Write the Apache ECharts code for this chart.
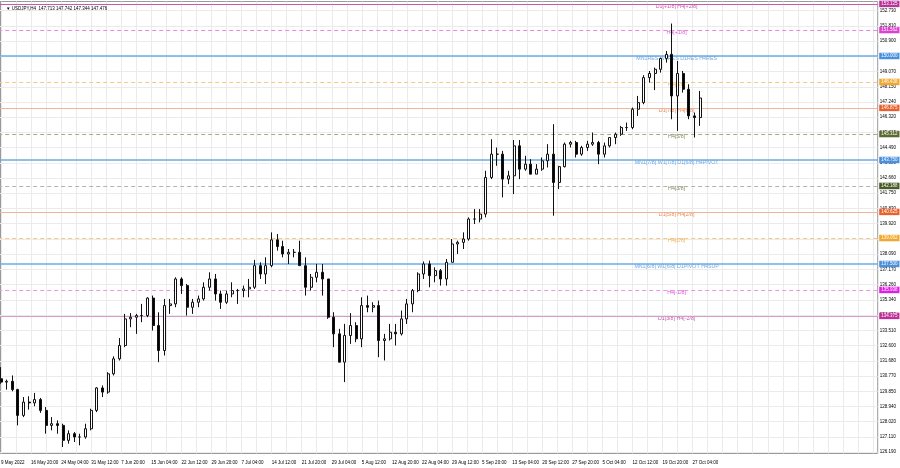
<!DOCTYPE html>
<html><head><meta charset="utf-8">
<script src="https://cdn.jsdelivr.net/npm/echarts@6/dist/echarts.min.js"></script>
<style>html,body{margin:0;padding:0;background:#fff}#c{width:900px;height:468px}</style>
</head><body><div id="c"></div>
<script>
// ---- data ----
const dates = [
 '05-09','05-10','05-11','05-12','05-13','05-16','05-17','05-18','05-19','05-20',
 '05-23','05-24','05-25','05-26','05-27','05-30','05-31','06-01','06-02','06-03',
 '06-06','06-07','06-08','06-09','06-10','06-13','06-14','06-15','06-16','06-17',
 '06-20','06-21','06-22','06-23','06-24','06-27','06-28','06-29','06-30','07-01',
 '07-04','07-05','07-06','07-07','07-08','07-11','07-12','07-13','07-14','07-15',
 '07-18','07-19','07-20','07-21','07-22','07-25','07-26','07-27','07-28','07-29',
 '08-01','08-02','08-03','08-04','08-05','08-08','08-09','08-10','08-11','08-12',
 '08-15','08-16','08-17','08-18','08-19','08-22','08-23','08-24','08-25','08-26',
 '08-29','08-30','08-31','09-01','09-02','09-05','09-06','09-07','09-08','09-09',
 '09-12','09-13','09-14','09-15','09-16','09-19','09-20','09-21','09-22','09-23',
 '09-26','09-27','09-28','09-29','09-30','10-03','10-04','10-05','10-06','10-07',
 '10-10','10-11','10-12','10-13','10-14','10-17','10-18','10-19','10-20','10-21',
 '10-24','10-25','10-26','10-27','10-28'];
const opens = [
 130.6,130.4,130.45,129.95,128.4, 129.2,129.15,129.35,128.7,127.8,
 127.9,127.8,126.9,127.3,127.1, 127.1,127.6,128.7,130.05,129.8,
 130.9,131.8,132.6,134.2,134.3, 134.4,134.4,135.45,133.8,132.3,
 135.0,135.1,136.6,136.2,134.9, 135.2,135.4,136.1,136.6,135.7,
 135.2,135.7,135.9,135.9,136.0, 136.1,137.4,136.9,137.4,138.95,
 138.55,138.1,138.2,138.2,137.4, 136.1,136.7,137.0,136.6,134.3,
 133.3,131.6,133.2,133.8,133.0, 135.0,134.9,135.0,132.9,133.0,
 133.4,133.3,134.2,135.1,135.9, 136.9,137.5,136.8,137.1,136.6,
 137.6,138.7,138.8,139.0,140.2, 140.2,140.5,142.7,144.1,144.1,
 142.6,142.8,144.6,143.2,143.5, 142.9,143.2,143.7,144.1,142.4,
 143.35,144.7,144.8,144.1,144.5, 144.7,144.8,144.1,144.6,145.1,
 145.3,145.7,145.7,146.8,147.2, 148.7,148.95,149.2,149.85,150.1,
 147.6,148.95,148.0,146.4,146.3];
const highs = [
 131.3,130.55,130.8,130.0,129.5, 129.55,129.75,129.45,128.9,128.3,
 128.1,127.9,127.5,127.4,127.3, 127.9,128.8,130.1,130.2,131.0,
 131.95,133.05,134.5,134.55,134.5, 135.1,135.5,135.6,134.6,135.4,
 135.4,136.7,136.7,136.3,135.4, 135.6,136.4,137.0,136.9,135.9,
 135.9,136.4,136.0,136.2,136.6, 137.75,137.6,137.9,139.4,139.3,
 138.9,138.4,138.4,138.9,137.9, 136.9,137.5,137.5,136.6,134.6,
 133.6,133.9,134.55,134.0,135.5, 135.6,135.2,135.3,133.3,133.9,
 133.9,134.7,135.4,136.0,137.0, 137.65,137.7,137.3,137.2,137.8,
 139.0,138.9,139.4,140.3,140.8, 140.8,143.1,145.0,144.5,144.3,
 143.1,144.95,144.95,144.0,143.8, 143.5,143.9,144.7,145.9,143.4,
 144.8,144.9,144.9,144.6,144.9, 145.4,144.9,144.8,145.1,145.4,
 145.8,146.0,146.9,147.6,148.85, 149.1,149.3,149.9,150.3,151.95,
 149.7,149.1,148.3,146.6,147.9];
const lows = [
 130.3,129.95,129.85,127.8,128.3, 128.75,128.95,128.55,127.3,127.5,
 127.3,126.5,126.7,126.8,126.6, 127.0,127.5,128.6,129.5,129.7,
 130.8,131.7,132.5,133.7,133.3, 134.0,134.3,133.5,131.6,132.0,
 134.5,134.9,135.7,134.4,134.5, 134.9,135.3,135.9,135.3,134.8,
 135.1,135.5,135.1,135.5,135.5, 136.0,136.6,136.3,137.3,138.3,
 137.9,137.5,137.9,137.4,135.6, 135.9,136.4,135.6,134.2,132.5,
 131.6,130.4,132.7,132.8,132.5, 134.6,134.6,131.9,131.7,132.9,
 132.6,133.2,133.9,134.6,135.8, 136.6,136.1,136.4,136.2,136.2,
 137.6,138.1,138.4,138.9,139.9, 140.0,140.3,142.6,143.4,141.5,
 142.3,141.7,142.6,143.1,142.9, 142.9,143.1,143.3,140.4,142.0,
 143.3,144.5,143.9,144.0,144.3, 144.6,143.5,143.9,144.5,144.7,
 145.2,145.5,145.6,146.4,147.1, 148.4,147.95,149.0,149.6,146.2,
 145.5,147.8,146.2,145.1,145.8];
const closes = [
 130.4,130.45,129.95,128.4,129.2, 129.15,129.35,128.7,127.8,127.9,
 127.8,126.9,127.3,127.1,127.1, 127.6,128.7,130.05,129.8,130.9,
 131.8,132.6,134.2,134.3,134.4, 134.4,135.45,133.8,132.3,135.0,
 135.1,136.6,136.2,134.9,135.2, 135.4,136.1,136.6,135.7,135.2,
 135.7,135.9,135.9,136.0,136.1, 137.4,136.9,137.4,138.95,138.55,
 138.1,138.2,138.2,137.4,136.1, 136.7,137.0,136.6,134.3,133.3,
 131.6,133.2,133.8,133.0,135.0, 134.9,135.0,132.9,133.0,133.4,
 133.3,134.2,135.1,135.9,136.9, 137.5,136.8,137.1,136.6,137.6,
 138.7,138.8,139.0,140.2,140.2, 140.5,142.7,144.1,144.1,142.6,
 142.8,144.6,143.2,143.5,142.9, 143.2,143.7,144.1,142.4,143.35,
 144.7,144.8,144.1,144.5,144.7, 144.8,144.1,144.6,145.1,145.3,
 145.7,145.7,146.8,147.2,148.7, 148.95,149.2,149.85,150.1,147.6,
 148.95,148.0,146.4,146.3,147.476];

const xTickLabels = ['9 May 2022','16 May 20:00','24 May 04:00','31 May 12:00','7 Jun 20:00',
 '15 Jun 04:00','22 Jun 12:00','29 Jun 20:00','7 Jul 04:00','14 Jul 12:00','21 Jul 20:00',
 '29 Jul 04:00','5 Aug 12:00','12 Aug 20:00','22 Aug 04:00','29 Aug 12:00','5 Sep 20:00',
 '13 Sep 04:00','20 Sep 12:00','27 Sep 20:00','5 Oct 04:00','12 Oct 12:00','19 Oct 20:00','27 Oct 04:00'];
const yTickLabels = [126.190,127.110,128.020,128.940,129.850,130.770,131.680,132.600,133.510,134.430,
 135.340,136.260,137.170,138.090,139.000,139.920,140.830,141.750,142.660,143.580,144.490,145.410,
 146.320,147.240,148.150,149.070,149.990,150.900,151.810,152.730];

const levelPrices = [153.125,151.5625,150.0,148.4375,146.875,145.3125,143.75,142.1875,140.625,139.0625,137.5,135.9375,134.375];
const levelNames = ['D1[+1/8] H4[+2/8]','H4[+1/8]','MN1RES W1RES D1RES H4RES','H4[7/8]','D1[7/8] H4[6/8]','H4[5/8]',
 'MN1[7/8] W1[7/8] D1[6/8] H4PIVOT','H4[3/8]','D1[5/8] H4[2/8]','H4[1/8]','MN1[6/8] W1[6/8] D1PIVOT H4SUP','H4[-1/8]','D1[3/8] H4[-2/8]'];
const levelTags = ['153.125','151.562','150.000','148.438','146.875','145.312','143.750','142.188','140.625','139.062','137.500','135.938','134.375'];
const lastPrice = 147.476;
const lastTag = '147.476';
const titleText = '\u25BC USDJPY,H4  147.713 147.742 147.344 147.476';

// ---- styles ----
const DASH = [4,3];
const levelStyles = [
 {line:'#c858b0', type:'solid', w:1, text:'#b03090', tag:'#b8339a'},
 {line:'#e48ad8', type:DASH,   w:1, text:'#d030d0', tag:'#e040d0'},
 {line:'#6aace6', type:'solid', w:1.6, text:'#4a90d9', tag:'#4a90dc'},
 {line:'#f6c880', type:DASH,   w:1, text:'#f0a030', tag:'#f0a830'},
 {line:'#f2b496', type:'solid', w:1, text:'#e06a30', tag:'#e8602c'},
 {line:'#a4ad86', type:DASH,   w:1, text:'#5e6e36', tag:'#5a6a30'},
 {line:'#6aace6', type:'solid', w:1.6, text:'#4a90d9', tag:'#4a90dc'},
 {line:'#b4b4ac', type:DASH,   w:1, text:'#5a6a34', tag:'#4a5a28'},
 {line:'#f2b496', type:'solid', w:1, text:'#e06a30', tag:'#e8602c'},
 {line:'#f6c880', type:DASH,   w:1, text:'#f0a030', tag:'#f0a830'},
 {line:'#6aace6', type:'solid', w:1.6, text:'#4a90d9', tag:'#4a90dc'},
 {line:'#ea96e2', type:DASH,   w:1, text:'#d020d0', tag:'#e020e0'},
 {line:'#d89ac8', type:'solid', w:1, text:'#b03090', tag:'#c0309a'}
];
const FONT = 'Liberation Sans, Arial, sans-serif';
const N_DAYS = 156, SLOTS = 936; // H4 slots = 6 per day
const dayCats = dates.concat(Array(N_DAYS - dates.length).fill(''));
const labelSlots = xTickLabels.map((_, i) => 3 + 32 * i);
const gridSlots = [];
for (let s = 3; s < SLOTS; s += 16) gridSlots.push(s);
const LABEL_SLOT = 722;

const chart = echarts.init(document.getElementById('c'), null, {renderer: 'canvas'});
const markData = levelPrices.map((p, i) => ({
  yAxis: p,
  lineStyle: {color: levelStyles[i].line, type: levelStyles[i].type, width: levelStyles[i].w},
  label: {show: true, position: 'end', distance: 1.5, formatter: levelTags[i], color: '#fff',
          backgroundColor: levelStyles[i].tag, padding: [1, 2, 0.5, 2], fontSize: 4.5, fontFamily: FONT, lineHeight: 5}
}));
markData.push({
  yAxis: lastPrice,
  lineStyle: {opacity: 0, width: 0},
  label: {show: true, position: 'end', distance: 1.5, formatter: lastTag, color: '#fff',
          backgroundColor: '#000', padding: [1, 2, 0.5, 2], fontSize: 4.5, fontFamily: FONT, lineHeight: 5}
});

chart.setOption({
  animation: false,
  backgroundColor: '#fff',
  title: {text: titleText, left: 1, top: 1.5, textStyle: {fontSize: 4.5, fontWeight: 'normal', color: '#000', fontFamily: FONT}},
  grid: {left: -1.8, top: 1.5, width: 879.5, height: 452, show: true, borderColor: '#9a9a9a', borderWidth: 1,
         backgroundColor: 'transparent', outerBoundsMode: 'none', containLabel: false},
  xAxis: [
    {type: 'category', data: dayCats, boundaryGap: true, show: false},
    {type: 'value', min: 0, max: SLOTS, position: 'bottom',
     axisLine: {show: false},
     axisTick: {show: false, customValues: gridSlots},
     axisLabel: {customValues: labelSlots, align: 'left', margin: 7, fontSize: 4.5, color: '#000', fontFamily: FONT,
                 formatter: v => xTickLabels[Math.round((v - 3) / 32)] || ''},
     splitLine: {show: true, lineStyle: {color: '#ebebeb', width: 1}}}
  ],
  yAxis: [{
    type: 'value', position: 'right', min: 126.11, max: 153.275, scale: true,
    axisLine: {show: false},
    axisTick: {show: false, customValues: yTickLabels},
    axisLabel: {customValues: yTickLabels, margin: 2, fontSize: 4.5, color: '#000', fontFamily: FONT,
                formatter: v => v.toFixed(3)},
    splitLine: {show: true, lineStyle: {color: '#ebebeb', width: 1}}
  }],
  series: [
    {
      type: 'scatter', xAxisIndex: 1, yAxisIndex: 0, z: 1, silent: true,
      symbol: 'circle', symbolSize: 1, itemStyle: {color: 'rgba(0,0,0,0)'},
      data: levelPrices.map((p, i) => ({
        value: [LABEL_SLOT, p, levelNames[i]],
        label: {show: true, position: 'inside', offset: [0, 2.8], color: levelStyles[i].text,
                fontSize: 5.3, fontFamily: FONT, formatter: levelNames[i]}
      })),
      markLine: {silent: true, symbol: ['none', 'none'], animation: false, data: markData}
    },
    {
      type: 'candlestick', xAxisIndex: 0, yAxisIndex: 0, z: 5, barWidth: 2.5,
      data: opens.map((o, i) => [o, closes[i], lows[i], highs[i]]),
      itemStyle: {color: '#fff', color0: '#000', borderColor: '#111', borderColor0: '#111', borderWidth: 1}
    }
  ],
  graphic: [
    {type: 'line', shape: {x1: 0.5, y1: 1.5, x2: 0.5, y2: 453.5}, style: {stroke: '#9a9a9a', lineWidth: 1}, silent: true}
  ]
});
</script></body></html>
